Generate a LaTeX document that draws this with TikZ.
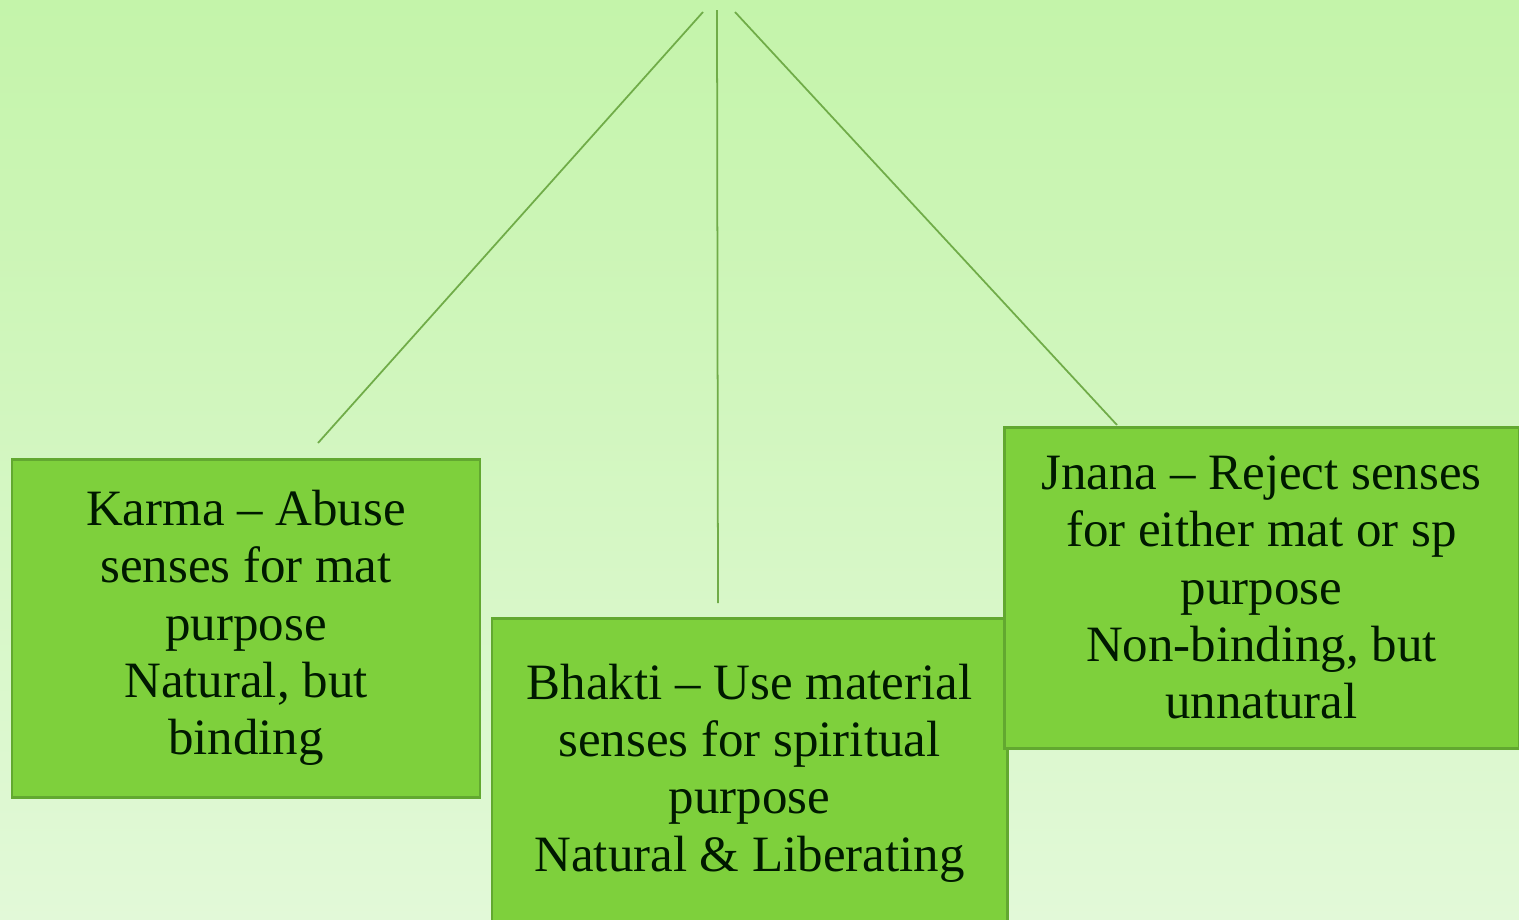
\documentclass[tikz,border=0pt]{standalone}
\usepackage{fontspec}
\setmainfont{Liberation Serif}
\definecolor{bgtop}{RGB}{196,244,170}
\definecolor{bgbot}{RGB}{226,249,216}
\definecolor{boxfill}{RGB}{126,208,60}
\definecolor{boxedge}{RGB}{98,168,48}
\definecolor{linkline}{RGB}{112,172,72}
\tikzset{
  leafbox/.style={draw=boxedge, line width=1.7pt, fill=boxfill, inner sep=0pt,
    align=center, font=\fontsize{29}{32.6}\selectfont, text=black!90!green},
  link/.style={draw=linkline, line width=1pt}
}
\begin{document}
\begin{tikzpicture}[x=0.02cm,y=-0.02cm]
  % background with a soft vertical gradient
  \shade[top color=bgtop, bottom color=bgbot] (0,0) rectangle (1519,920);
  \useasboundingbox (0,0) rectangle (1519,920);

  % connector end points
  \coordinate (apexL) at (703,12);
  \coordinate (apexC) at (717,10);
  \coordinate (apexR) at (735,12);
  \coordinate (footL) at (318,443);
  \coordinate (footC) at (718,603);
  \coordinate (footR) at (1117,425);

  \draw[link] (apexL) -- (footL);
  \draw[link] (apexC) -- (footC);
  \draw[link] (apexR) -- (footR);

  % three paths
  \node[leafbox, minimum width=468*0.02cm, minimum height=338*0.02cm] (karma) at (246,628)
    {Karma -- Abuse\\senses for mat\\purpose\\Natural, but\\binding};
  \node[leafbox, minimum width=515*0.02cm, minimum height=310*0.02cm] (bhakti) at (749.5,773)
    {Bhakti -- Use material\\senses for spiritual\\purpose\\Natural \& Liberating};
  \node[leafbox, minimum width=515*0.02cm, minimum height=321*0.02cm] (jnana) at (1261.5,587.5)
    {Jnana -- Reject senses\\for either mat or sp\\purpose\\Non-binding, but\\unnatural};
\end{tikzpicture}
\end{document}
